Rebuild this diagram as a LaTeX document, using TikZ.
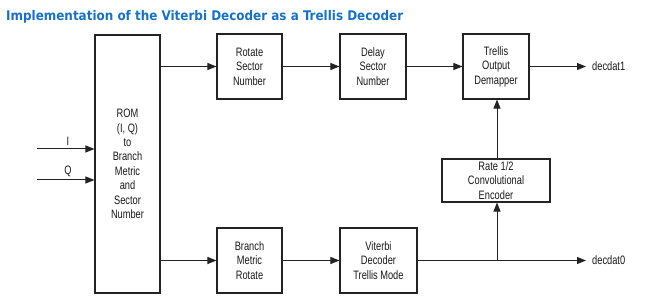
\documentclass[tikz,border=0pt]{standalone}
\usepackage{fontspec}
\setmainfont{Liberation Sans}[FakeStretch=0.76]
\newfontfamily\titlefont{DejaVu Sans Condensed}
\usetikzlibrary{arrows.meta}
\definecolor{titleblue}{RGB}{22,114,200}
\definecolor{linegray}{RGB}{35,35,35}
\tikzset{
  blk/.style={draw=linegray, line width=1.1pt, align=center, inner sep=0pt,
    font=\fontsize{12.2}{14.4}\selectfont, text=black!90},
  conn/.style={draw=linegray, line width=1pt, -{Triangle[length=9pt,width=7pt]}},
  lbl/.style={font=\fontsize{12.2}{14}\selectfont, text=black!90, inner sep=0pt}
}
\begin{document}
\begin{tikzpicture}[x=1pt,y=-1pt]
\useasboundingbox (0,0) rectangle (649,307);
\node[anchor=base west, inner sep=0pt, text=titleblue, font=\titlefont\bfseries\fontsize{13.3}{16}\selectfont] (title) at (6,21) {Implementation of the Viterbi Decoder as a Trellis Decoder};

\node[blk, minimum width=65pt, minimum height=258pt] (rom) at (127.5,164) {ROM\\(I, Q)\\to\\Branch\\Metric\\and\\Sector\\Number};
\node[blk, minimum width=65pt, minimum height=65pt] (rot) at (249.5,66.5) {Rotate\\Sector\\Number};
\node[blk, minimum width=66pt, minimum height=65pt] (del) at (373,66.5) {Delay\\Sector\\Number};
\node[blk, minimum width=66pt, minimum height=65pt] (tod) at (496,66.5) {Trellis\\Output\\Demapper};
\node[blk, minimum width=108pt, minimum height=43pt] (enc) at (496,180.5) {Rate 1/2\\Convolutional\\Encoder};
\node[blk, minimum width=65pt, minimum height=65pt] (bmr) at (249.5,260.5) {Branch\\Metric\\Rotate};
\node[blk, minimum width=77pt, minimum height=65pt] (vit) at (378.5,260.5) {Viterbi\\Decoder\\Trellis Mode};

\coordinate (inI) at (37,149);
\coordinate (inQ) at (37,180);
\coordinate (d1) at (586,66.5);
\coordinate (d0) at (586,260.5);
\coordinate (jn) at (497,260.5);

\draw[conn] (inI) -- (rom.west |- inI);
\draw[conn] (inQ) -- (rom.west |- inQ);
\node[lbl, anchor=south] (lI) at (68,146) {I};
\node[lbl, anchor=south] (lQ) at (68,177) {Q};

\draw[conn] (rom.east |- rot.west) -- (rot.west);
\draw[conn] (rom.east |- bmr.west) -- (bmr.west);
\draw[conn] (rot.east) -- (del.west);
\draw[conn] (del.east) -- (tod.west);
\draw[conn] (bmr.east) -- (vit.west);
\draw[conn] (tod.east) -- (d1);
\draw[conn] (vit.east) -- (d0);
\draw[conn] (jn) -- (enc.south -| jn);
\draw[conn] (enc.north -| jn) -- (tod.south -| jn);

\node[lbl, anchor=west] (o1) at (592,66.5) {decdat1};
\node[lbl, anchor=west] (o0) at (592,260.5) {decdat0};
\end{tikzpicture}
\end{document}
